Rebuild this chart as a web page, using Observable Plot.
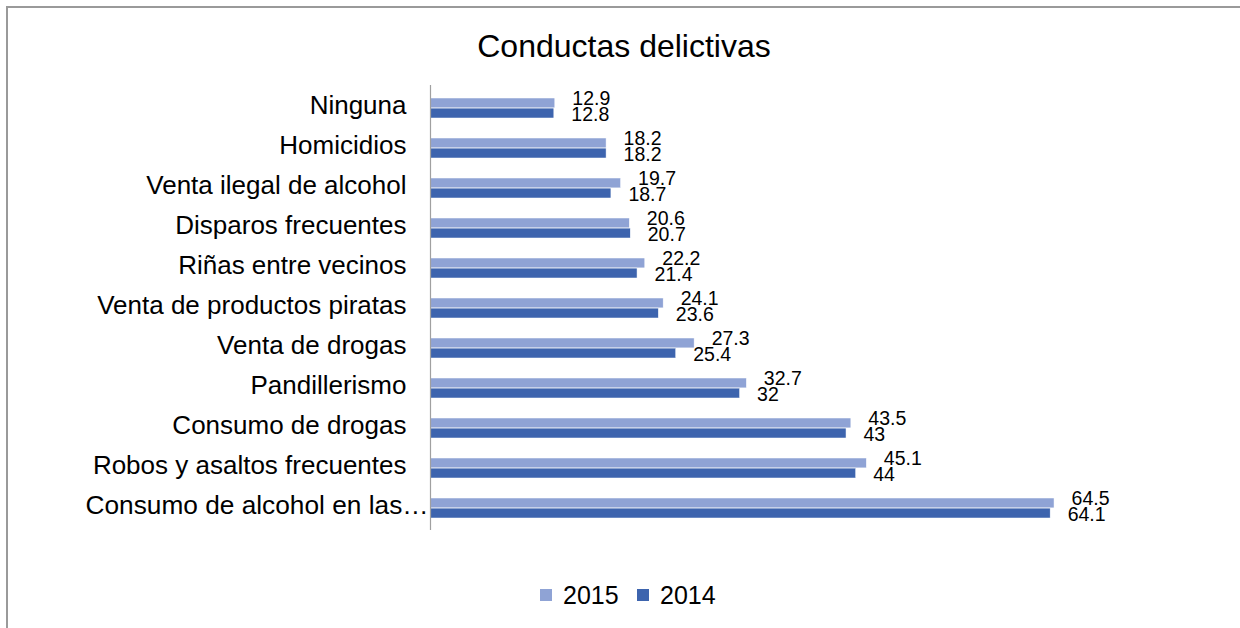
<!DOCTYPE html>
<html>
<head>
<meta charset="utf-8">
<script src="https://cdn.jsdelivr.net/npm/d3@7"></script>
<script src="https://cdn.jsdelivr.net/npm/@observablehq/plot@0.6"></script>
<style>
  html, body { margin: 0; padding: 0; background: #fff; overflow: hidden; width: 1240px; height: 628px; }
  body { font-family: "Liberation Sans", Arial, sans-serif; color: #000; position: relative; }
  #frame { position: absolute; left: 6px; top: 6px; width: 1300px; height: 700px; border-top: 2px solid #9a9a9a; border-left: 2px solid #9a9a9a; box-sizing: border-box; }
  #title { position: absolute; left: 0; top: 30px; width: 1248px; text-align: center; font-size: 32px; line-height: 32px; }
  #chart { position: absolute; left: 0; top: 80px; }
  .sw { position: absolute; width: 12px; height: 12px; }
  .lt { position: absolute; font-size: 25px; line-height: 25px; }
</style>
</head>
<body>
<div id="frame"></div>
<div id="title">Conductas delictivas</div>
<div id="chart"></div>
<div id="legend"></div>
<script>
const categories = ["Ninguna","Homicidios","Venta ilegal de alcohol","Disparos frecuentes","Riñas entre vecinos","Venta de productos piratas","Venta de drogas","Pandillerismo","Consumo de drogas","Robos y asaltos frecuentes","Consumo de alcohol en las…"];
const values2015 = [12.9,18.2,19.7,20.6,22.2,24.1,27.3,32.7,43.5,45.1,64.5];
const values2014 = [12.8,18.2,18.7,20.7,21.4,23.6,25.4,32,43,44,64.1];
const seriesNames = ["2015","2014"];
const colors = ["#8FA3D5","#3D64AE"];

const d2015 = categories.map((c, i) => ({cat: c, v: values2015[i]}));
const d2014 = categories.map((c, i) => ({cat: c, v: values2014[i]}));

const half = 10.1;
const chart = Plot.plot({
  width: 1240,
  height: 465,
  marginLeft: 430,
  marginRight: 36,
  marginTop: 5,
  marginBottom: 15,
  style: {fontFamily: "'Liberation Sans', Arial, sans-serif", background: "transparent", color: "#000"},
  x: {domain: [0, 80], axis: null},
  y: {domain: categories, paddingInner: 0.5, paddingOuter: 0.25, axis: null},
  marks: [
    Plot.barX(d2015, {x: "v", y: "cat", fill: colors[0], insetBottom: half, stroke: "#fff", strokeWidth: 0.5}),
    Plot.barX(d2014, {x: "v", y: "cat", fill: colors[1], insetTop: half, stroke: "#fff", strokeWidth: 0.5}),
    Plot.ruleX([0], {stroke: "#a0a0a0", strokeWidth: 1.2}),
    Plot.axisY({tickSize: 0, tickPadding: 24, fontSize: 26, fill: "#000", label: null, dy: -3}),
    Plot.text(d2015, {x: "v", y: "cat", text: d => String(d.v), dx: 17, dy: -10, textAnchor: "start", fontSize: 19.5, fill: "#000"}),
    Plot.text(d2014, {x: "v", y: "cat", text: d => String(d.v), dx: 17, dy: 6.5, textAnchor: "start", fontSize: 19.5, fill: "#000"})
  ]
});
document.getElementById("chart").appendChild(chart);

// Excel-style truncated label runs right up to the axis line
const tickTexts = Array.from(chart.querySelectorAll("text")).filter(t => t.textContent === categories[categories.length - 1]);
tickTexts.forEach(t => {
  const x = parseFloat(t.getAttribute("x") || "0");
  t.setAttribute("textLength", "343");
  t.setAttribute("lengthAdjust", "spacingAndGlyphs");
  t.setAttribute("dx", "22");
});

const legend = document.getElementById("legend");
const swX = [540, 637], txX = [563, 660];
seriesNames.forEach((name, i) => {
  const s = document.createElement("div");
  s.className = "sw";
  s.style.left = swX[i] + "px"; s.style.top = "589px"; s.style.background = colors[i];
  legend.appendChild(s);
  const t = document.createElement("div");
  t.className = "lt";
  t.style.left = txX[i] + "px"; t.style.top = "583px";
  t.textContent = name;
  legend.appendChild(t);
});
</script>
</body>
</html>
